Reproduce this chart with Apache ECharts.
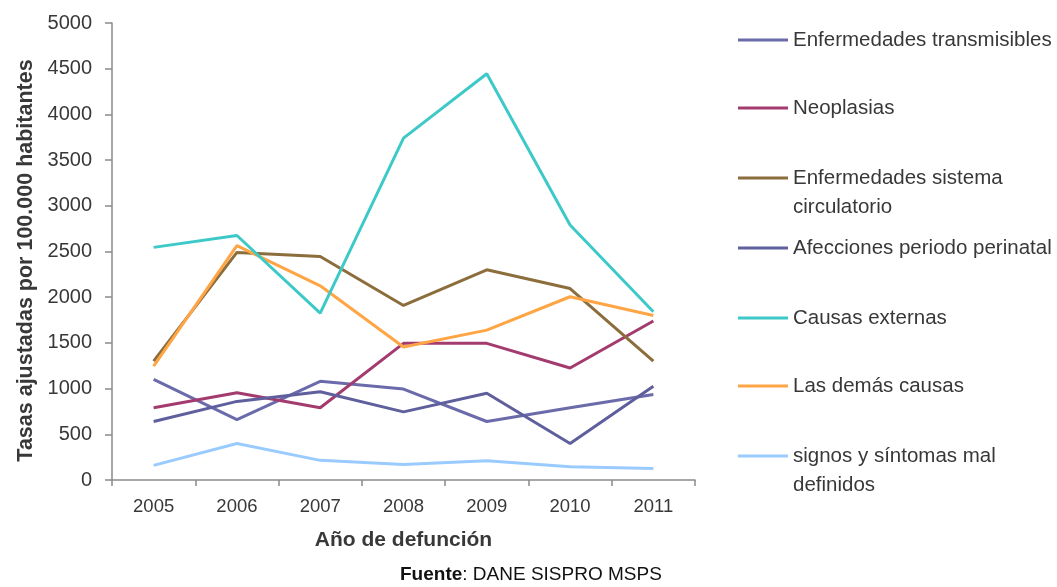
<!DOCTYPE html>
<html>
<head>
<meta charset="utf-8">
<script src="https://cdn.jsdelivr.net/npm/echarts@6/dist/echarts.min.js"></script>
<style>
html,body{margin:0;padding:0;background:#fff;}
#c{width:1057px;height:587px;}
</style>
</head>
<body>
<div id="c"></div>
<script>
const years = ['2005','2006','2007','2008','2009','2010','2011'];
const seriesNames = [
  'Enfermedades transmisibles',
  'Neoplasias',
  'Enfermedades sistema\ncirculatorio',
  'Afecciones periodo perinatal',
  'Causas externas',
  'Las demás causas',
  'signos y síntomas mal\ndefinidos'
];
const transmisibles = [1100, 660, 1080, 995, 640, 790, 935];
const neoplasias    = [790, 955, 790, 1495, 1495, 1225, 1740];
const circulatorio  = [1300, 2490, 2445, 1910, 2300, 2095, 1300];
const perinatal     = [640, 860, 965, 745, 950, 400, 1025];
const externas      = [2545, 2675, 1825, 3740, 4445, 2790, 1840];
const demas         = [1245, 2565, 2125, 1455, 1640, 2005, 1800];
const signos        = [160, 400, 215, 170, 210, 145, 125];
const yTicks = [0, 500, 1000, 1500, 2000, 2500, 3000, 3500, 4000, 4500, 5000];

const values = [transmisibles, neoplasias, circulatorio, perinatal, externas, demas, signos];
const colors = ['#6B6BAB', '#A33B6F', '#8C6D3C', '#5F5F9D', '#3EC9C9', '#FFA545', '#9ACBFF'];
const legendCenters = [40, 108, 178, 248, 318, 386, 456];

const txt = '#383838';
const font = '"Liberation Sans", Arial, sans-serif';

const legends = seriesNames.map((n, i) => {
  const two = n.indexOf('\n') >= 0;
  const lh = 29;
  return {
    orient: 'vertical',
    left: 738,
    top: two ? legendCenters[i] - lh * 1.5 : legendCenters[i] - lh / 2,
    padding: 0,
    itemWidth: 50,
    itemHeight: 3,
    icon: 'rect',
    selectedMode: false,
    data: [n],
    formatter: (name) => (name.indexOf('\n') >= 0 ? ' \n' + name : name),
    textStyle: {
      fontFamily: font, fontSize: 20.5, color: txt, lineHeight: lh
    }
  };
});

const chart = echarts.init(document.getElementById('c'));
chart.setOption({
  animation: false,
  backgroundColor: '#fff',
  textStyle: { fontFamily: font },
  grid: { left: 112, right: 362, top: 23, bottom: 107, containLabel: false },
  legend: legends,
  title: {
    left: 400, top: 565, padding: 0,
    text: '{b|Fuente}{r|: DANE SISPRO MSPS}',
    textStyle: {
      rich: {
        b: { fontFamily: font, fontSize: 19, fontWeight: 'bold', color: '#111' },
        r: { fontFamily: font, fontSize: 19, fontWeight: 'normal', color: '#111' }
      }
    }
  },
  xAxis: {
    type: 'category',
    data: years,
    boundaryGap: true,
    name: 'Año de defunción',
    nameLocation: 'middle',
    nameGap: 50,
    nameTextStyle: { fontFamily: font, fontSize: 21, fontWeight: 'bold', color: txt },
    axisLine: { lineStyle: { color: '#8a8a8a', width: 1.5 } },
    axisTick: { show: true, length: 6, alignWithLabel: false, lineStyle: { color: '#8a8a8a', width: 1.5 } },
    axisLabel: { fontFamily: font, fontSize: 18.5, color: txt, margin: 17 },
    splitLine: { show: false }
  },
  yAxis: {
    type: 'value',
    min: yTicks[0],
    max: yTicks[yTicks.length - 1],
    interval: yTicks[1] - yTicks[0],
    name: 'Tasas ajustadas por 100.000 habitantes',
    nameLocation: 'middle',
    nameGap: 74,
    nameTextStyle: { fontFamily: font, fontSize: 21.5, fontWeight: 'bold', color: txt, padding: [0, 18, 0, 0] },
    axisLine: { show: true, lineStyle: { color: '#8a8a8a', width: 1.5 } },
    axisTick: { show: true, length: 7, lineStyle: { color: '#8a8a8a', width: 1.5 } },
    axisLabel: { fontFamily: font, fontSize: 20, color: txt, margin: 20, formatter: (v) => String(v) },
    splitLine: { show: false }
  },
  series: seriesNames.map((n, i) => ({
    name: n,
    type: 'line',
    data: values[i],
    symbol: 'none',
    smooth: false,
    color: colors[i],
    lineStyle: { width: 3, color: colors[i] },
    z: i === 4 ? 3 : 2
  }))
});
</script>
</body>
</html>
